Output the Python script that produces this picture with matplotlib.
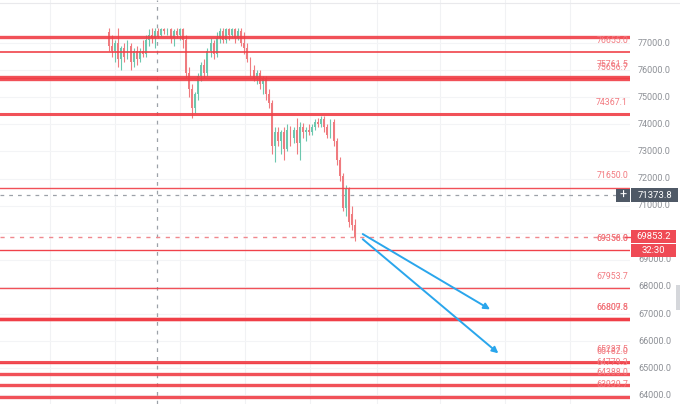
import matplotlib
matplotlib.use('Agg')
import matplotlib.pyplot as plt
import matplotlib.transforms as mtransforms
from matplotlib.patches import Rectangle, FancyArrowPatch

# ---------------- data ----------------
opens = [77400, 76900, 76700, 77000, 76400, 76800, 76500, 76900, 76300, 76700,
         76400, 76700, 76600, 77100, 77300, 77200, 77450, 77300, 77500, 77450,
         77500, 77200, 77450, 77300, 77500, 77100, 75900, 75300, 74600, 75100,
         75800, 76200, 75900, 76700, 77000, 76600, 77200, 77450, 77100, 77500,
         77300, 77500, 77200, 77450, 77000, 76800, 76400, 76000, 75700, 75900,
         75500, 75700, 75100, 74800, 73200, 73700, 73400, 73700, 73100, 73800,
         73500, 73800, 73300, 73900, 73700, 73800, 73700, 73900, 74100, 74000,
         74200, 73900, 73600, 74100, 73400, 72700, 72100, 70900, 71600, 70700,
         70300]
highs = [77550, 77300, 77100, 77550, 76900, 77000, 77100, 77000, 76800, 76900,
         76800, 77100, 77300, 77500, 77550, 77550, 77550, 77550, 77550, 77550,
         77550, 77500, 77550, 77550, 77550, 77300, 76100, 75500, 75200, 75900,
         76300, 76400, 76800, 77200, 77100, 77400, 77550, 77550, 77550, 77550,
         77550, 77550, 77550, 77550, 77400, 77000, 76500, 76200, 76000, 76000,
         75800, 75800, 75300, 74900, 73900, 73900, 73800, 73900, 74000, 73950,
         73900, 74250, 74100, 74050, 73900, 74000, 74000, 74200, 74250, 74300,
         74300, 74000, 74200, 74200, 73500, 72800, 72200, 71750, 71700, 71000,
         70500]
lows = [76700, 76500, 76300, 76100, 76000, 76300, 76400, 76000, 76100, 76200,
        76300, 76500, 76500, 76900, 77000, 76800, 77200, 77250, 77350, 77300,
        77000, 76900, 77200, 77100, 76800, 75700, 75000, 74250, 74400, 74900,
        75600, 75700, 75800, 76500, 76400, 76500, 77000, 77000, 77000, 77100,
        77200, 77000, 77100, 76900, 76600, 76300, 75800, 75600, 75500, 75300,
        75100, 74900, 74600, 72900, 72600, 73200, 72900, 72700, 73000, 73200,
        73300, 72900, 72700, 73500, 73400, 73600, 73600, 73800, 73900, 73900,
        73700, 73500, 73500, 73200, 72500, 71900, 70800, 70600, 70200, 70100,
        69700]
closes = [76900, 76700, 77000, 76400, 76800, 76500, 76900, 76300, 76700, 76400,
          76700, 76600, 77100, 77300, 77200, 77450, 77300, 77500, 77450, 77500,
          77200, 77450, 77300, 77500, 77100, 75900, 75300, 74600, 75100, 75800,
          76200, 75900, 76700, 77000, 76600, 77200, 77450, 77100, 77500, 77300,
          77500, 77200, 77450, 77000, 76800, 76400, 76000, 75700, 75900, 75500,
          75700, 75100, 74800, 73200, 73700, 73400, 73700, 73100, 73800, 73500,
          73800, 73300, 73900, 73700, 73800, 73700, 73900, 74100, 74000, 74200,
          73900, 73600, 74100, 73400, 72700, 72100, 70900, 71600, 70400, 70300,
          69853.2]

levels = [77221.0, 76655.0, 75761.5, 75656.7, 74367.1, 71650.0, 69358.0, 69356.0,
          67953.7, 66809.8, 66807.5, 65237.5, 65182.0, 64779.3, 64388.0, 63939.7]
level_labels = ['', '76655.0', '75761.5', '75656.7', '74367.1', '71650.0', '69358.0',
                '69356.0', '67953.7', '66809.8', '66807.5', '65237.5', '65182.0',
                '64779.3', '64388.0', '63939.7']
axis_ticks = [77000, 76000, 75000, 74000, 73000, 72000, 71000, 69000,
              68000, 67000, 66000, 65000, 64000]
grid_ticks = [77000, 76000, 75000, 74000, 73000, 72000, 71000, 70000, 69000,
              68000, 67000, 66000, 65000, 64000]
last_price = 69853.2
last_label = '69853.2'
timer_label = '32:30'
cross_price = 71373.8
cross_label = '71373.8'
cross_index = 15.7
arrow_starts = [(82.5, 69950), (82.5, 69760)]
arrow_ends = [(123.9, 67170), (126.6, 65550)]

# ---------------- styles ----------------
level_widths = [2.4, 1.3, 2.4, 2.4, 2.2, 1.0, 1.0, 0.6, 1.0, 2.4, 2.4, 2.2, 1.0, 2.4, 2.4, 2.4]
GREEN = '#6cc7ae'
RED = '#ef7b7f'
LINE_RED = '#f03e46'
LABEL_RED = '#f27a80'
GRAY_TXT = '#8d9096'
PX = 0.0271  # pixels per price unit

fig = plt.figure(figsize=(6.8, 4.04), dpi=100)
fig.patch.set_facecolor('white')
ax = fig.add_axes([0, 0, 630 / 680, 1])
ax.set_xlim(-35.45, 169.4)
ax.set_ylim(63679, 78587)
ax.axis('off')

# faint grid
for px in [50, 115, 180, 245, 310, 377, 440, 505, 570]:
    ax.axvline(px / 3.075 - 35.45, color='#f1f2f4', lw=0.8, zorder=0)
for t in grid_ticks:
    ax.axhline(t, color='#f3f4f6', lw=0.8, zorder=0)
fig.add_artist(plt.Line2D([0, 1], [1 - 3 / 404, 1 - 3 / 404], color='#e9e9ec', lw=0.8))

# candles
for i, (o, h, l, c) in enumerate(zip(opens, highs, lows, closes)):
    col = GREEN if c >= o else RED
    ax.vlines(i, l, h, color=col, lw=0.8, zorder=2)
    ax.bar(i, max(abs(c - o), 25), bottom=min(o, c), width=0.62, color=col,
           lw=0, zorder=3)

# horizontal levels
blend = mtransforms.blended_transform_factory(ax.transAxes, ax.transData)
lab_tr = mtransforms.offset_copy(blend, fig=fig, x=0, y=12, units='dots')
for v, lab, w in zip(levels, level_labels, level_widths):
    ax.axhline(v, color=LINE_RED, lw=w, alpha=0.9, zorder=4)
    if lab:
        ax.text(628 / 630, v, lab, transform=lab_tr, ha='right', va='center',
                fontsize=6.3, family='Roboto', color=LABEL_RED, zorder=5)

# crosshair
ax.axvline(cross_index, color='#9ca1a8', lw=0.9, ls=(0, (3, 4)), zorder=1)
ax.plot([0, 617 / 630], [cross_price, cross_price], transform=blend,
        color='#9ca1a8', lw=0.9, ls=(0, (3, 4)), zorder=1)
# last price dashed line
ax.axhline(last_price, color='#f0888e', lw=1.0, ls=(0, (3, 4)), zorder=1)

# arrows
for s, e in zip(arrow_starts, arrow_ends):
    ax.add_patch(FancyArrowPatch(s, e, arrowstyle='-|>', mutation_scale=9,
                                 lw=1.4, color='#2aa6ec', zorder=6,
                                 shrinkA=0, shrinkB=0))

# right price scale
for t in axis_ticks:
    ax.text(638 / 630, t, f'{t:.1f}', transform=blend, ha='left', va='center',
            fontsize=6.5, family='Roboto', color=GRAY_TXT, clip_on=False)

def box(x0, x1, yc, hpx, color, text, tcol='white', fs=6.8):
    h = hpx / PX
    r = Rectangle((x0 / 630, yc - h / 2), (x1 - x0) / 630, h, transform=blend,
                  facecolor=color, edgecolor='none', clip_on=False, zorder=10)
    ax.add_patch(r)
    ax.text((x0 + x1) / 2 / 630, yc, text, transform=blend, ha='center',
            va='center', fontsize=fs, family='Roboto', color=tcol,
            clip_on=False, zorder=11)

box(631, 678, cross_price, 14, '#4f5966', cross_label)
box(616, 630, cross_price, 13, '#4f5966', '+', fs=9)
box(631, 676, last_price, 12.5, '#ef4a55', last_label)
box(631, 676, last_price - 13.8 / PX, 12.5, '#ef4a55', timer_label)
ax.plot([625 / 630, 630 / 630], [last_price, last_price], transform=blend,
        color='#ef4a55', lw=1, clip_on=False, zorder=10)
fig.add_artist(Rectangle((676 / 680, 1 - 310 / 404), 4 / 680, 25 / 404,
                         facecolor='#d5d7db', edgecolor='none'))

fig.savefig('out.png', dpi=100)
